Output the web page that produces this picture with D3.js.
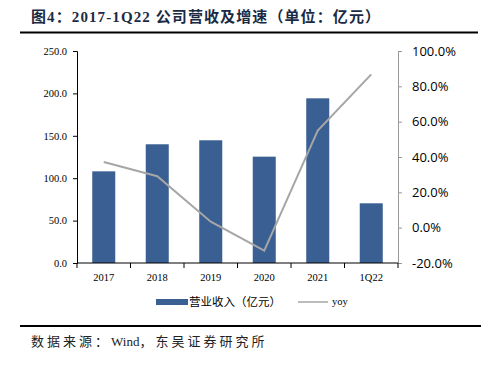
<!DOCTYPE html>
<html>
<head>
<meta charset="utf-8">
<script src="https://cdn.jsdelivr.net/npm/d3@7"></script>
<style>
  body { margin: 0; background: #fff; }
  svg { display: block; }
</style>
</head>
<body>
<svg id="chart" width="481" height="367"></svg>
<script>
// data
const categories = ["2017", "2018", "2019", "2020", "2021", "1Q22"];
const revenue = [108.1, 140.0, 144.7, 125.4, 194.2, 70.4];   // 营业收入（亿元）
const yoy = [37.2, 29.1, 3.4, -13.0, 54.9, 86.8];           // %
const leftTicks = [0, 50, 100, 150, 200, 250];
const rightTicks = [-20, 0, 20, 40, 60, 80, 100];

const svg = d3.select("#chart");
const serif = "'Liberation Serif', 'Times New Roman', 'Noto Sans CJK SC', serif";
const sans = "'Noto Sans CJK SC', 'Liberation Sans', sans-serif";

// plot box
const plotLeft = 77, plotRight = 398, plotTop = 51, plotBottom = 263;

const x = d3.scaleBand().domain(categories).range([plotLeft, plotRight]).paddingInner(0.57).paddingOuter(0.285);
const xOuter = d3.scaleBand().domain(categories).range([plotLeft, plotRight]);
const yL = d3.scaleLinear().domain([0, 250]).range([plotBottom, plotTop]);
const yR = d3.scaleLinear().domain([-20, 100]).range([plotBottom, plotTop]);

// title and rules
svg.append("text")
  .attr("x", 31).attr("y", 22)
  .attr("font-family", serif)
  .attr("font-weight", "bold")
  .attr("font-size", 15)
  .attr("letter-spacing", 1.1)
  .attr("fill", "#1a2a44")
  .text("图4：2017-1Q22 公司营收及增速（单位：亿元）");

svg.append("line").attr("x1", 20).attr("x2", 478).attr("y1", 32.5).attr("y2", 32.5)
  .attr("stroke", "#000").attr("stroke-width", 2);
svg.append("line").attr("x1", 20).attr("x2", 481).attr("y1", 326).attr("y2", 326)
  .attr("stroke", "#000").attr("stroke-width", 2);

// source line, latin part kept tight
const src = svg.append("text")
  .attr("x", 31).attr("y", 346)
  .attr("font-family", serif)
  .attr("font-size", 13)
  .attr("fill", "#222");
src.append("tspan").attr("letter-spacing", 3).text("数据来源：");
src.append("tspan").text("Wind");
src.append("tspan").attr("letter-spacing", 3).text("，东吴证券研究所");

// bars
svg.append("g").selectAll("rect")
  .data(revenue)
  .join("rect")
  .attr("x", (d, i) => x(categories[i]))
  .attr("y", d => yL(d))
  .attr("width", x.bandwidth())
  .attr("height", d => plotBottom - yL(d))
  .attr("fill", "#3A5F92");

// yoy line
const line = d3.line()
  .x((d, i) => xOuter(categories[i]) + xOuter.bandwidth() / 2)
  .y(d => yR(d));
svg.append("path")
  .datum(yoy)
  .attr("d", line)
  .attr("fill", "none")
  .attr("stroke", "#A6A6A6")
  .attr("stroke-width", 2);

// left axis
const gL = svg.append("g").attr("transform", `translate(${plotLeft},0)`)
  .call(d3.axisLeft(yL).tickValues(leftTicks).tickFormat(d3.format(".1f")).tickSizeOuter(0).tickSize(4));
gL.select(".domain").attr("stroke", "#000");
gL.selectAll("line").attr("stroke", "#000");
gL.selectAll("text").attr("font-family", serif).attr("font-size", 10.5).attr("fill", "#000").attr("x", -10);

// right axis
const gR = svg.append("g").attr("transform", `translate(${plotRight},0)`)
  .call(d3.axisRight(yR).tickValues(rightTicks).tickFormat(d => d.toFixed(1) + "%").tickSizeOuter(0).tickSize(4));
gR.select(".domain").attr("stroke", "#999");
gR.selectAll("line").attr("stroke", "#999");
gR.selectAll("text").attr("font-family", "'Open Sans', 'Liberation Sans', sans-serif").attr("font-size", 13).attr("fill", "#000").attr("x", 14);

// bottom axis: ticks at category boundaries
const gB = svg.append("g").attr("transform", `translate(0,${plotBottom})`);
gB.append("line").attr("x1", plotLeft).attr("x2", plotRight).attr("stroke", "#000");
gB.selectAll(".tk")
  .data(d3.range(categories.length + 1))
  .join("line")
  .attr("class", "tk")
  .attr("x1", i => plotLeft + i * xOuter.step())
  .attr("x2", i => plotLeft + i * xOuter.step())
  .attr("y1", 0).attr("y2", 5)
  .attr("stroke", "#000");
gB.selectAll("text")
  .data(categories)
  .join("text")
  .attr("x", d => xOuter(d) + xOuter.bandwidth() / 2)
  .attr("y", 18)
  .attr("text-anchor", "middle")
  .attr("font-family", serif)
  .attr("font-size", 10.5)
  .text(d => d);

// legend
const lg = svg.append("g");
lg.append("rect").attr("x", 156).attr("y", 299).attr("width", 32).attr("height", 6).attr("fill", "#3A5F92");
lg.append("text").attr("x", 189).attr("y", 306)
  .attr("font-family", sans).attr("font-size", 11.5).text("营业收入（亿元）");
lg.append("line").attr("x1", 298).attr("x2", 328).attr("y1", 302).attr("y2", 302)
  .attr("stroke", "#A6A6A6").attr("stroke-width", 1.5);
lg.append("text").attr("x", 332).attr("y", 305)
  .attr("font-family", serif).attr("font-size", 10.5).text("yoy");
</script>
</body>
</html>
